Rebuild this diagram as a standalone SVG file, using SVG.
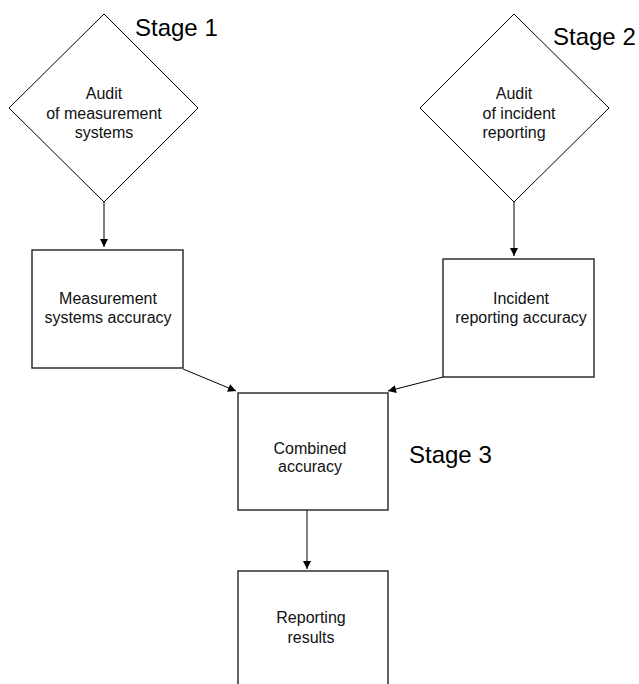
<svg xmlns="http://www.w3.org/2000/svg" width="639" height="684" viewBox="0 0 639 684">
<defs>
<marker id="ah" viewBox="0 0 10 10" refX="10" refY="5" markerWidth="9" markerHeight="8" markerUnits="userSpaceOnUse" orient="auto">
<path d="M0,0 L10,5 L0,10 z" fill="#000"/>
</marker>
<style>
.d{fill:#fff;stroke:#000;stroke-width:1}
.b{fill:#fff;stroke:#222;stroke-width:1.4}
.t{font-family:"Liberation Sans",Arial,sans-serif;font-size:16px;fill:#111;text-anchor:middle}
.tb{font-family:"Liberation Sans",Arial,sans-serif;font-size:16px;fill:#111;text-anchor:middle}
.s{font-family:"Liberation Sans",Arial,sans-serif;font-size:24px;fill:#000}
.c{fill:none;stroke:#000;stroke-width:1;marker-end:url(#ah)}
</style>
</defs>
<rect width="639" height="684" fill="#fff"/>
<g id="connectors">
<line class="c" x1="104" y1="202" x2="104" y2="247"/>
<line class="c" x1="514" y1="202" x2="514" y2="256"/>
<line class="c" x1="183" y1="369" x2="236" y2="391"/>
<line class="c" x1="443" y1="377" x2="388" y2="391"/>
<line class="c" x1="307" y1="510" x2="307" y2="569"/>
</g>
<g id="audit-measurement">
<polygon class="d" points="104,14 198,108 104,202 9,108"/>
<text class="t" x="104" y="99">Audit</text>
<text class="t" x="104" y="119">of measurement</text>
<text class="t" x="104" y="138">systems</text>
</g>
<g id="stage1"><text class="s" x="135" y="36">Stage 1</text></g>
<g id="audit-incident">
<polygon class="d" points="514,14 609,108 514,202 420,108"/>
<text class="t" x="514" y="99">Audit</text>
<text class="t" x="519" y="119">of incident</text>
<text class="t" x="514" y="138">reporting</text>
</g>
<g id="stage2"><text class="s" x="553" y="45">Stage 2</text></g>
<g id="measurement-accuracy">
<rect class="b" x="32" y="250" width="151" height="118"/>
<text class="tb" x="108" y="304">Measurement</text>
<text class="tb" x="108" y="323">systems accuracy</text>
</g>
<g id="incident-accuracy">
<rect class="b" x="443" y="259" width="151" height="118"/>
<text class="tb" x="521" y="304">Incident</text>
<text class="tb" x="521" y="323">reporting accuracy</text>
</g>
<g id="combined-accuracy">
<rect class="b" x="238" y="393" width="150" height="117"/>
<text class="tb" x="310" y="454">Combined</text>
<text class="tb" x="310" y="472">accuracy</text>
</g>
<g id="stage3"><text class="s" x="409" y="463">Stage 3</text></g>
<g id="reporting-results">
<rect class="b" x="238" y="571" width="150" height="130"/>
<text class="tb" x="311" y="623">Reporting</text>
<text class="tb" x="311" y="643">results</text>
</g>
</svg>
